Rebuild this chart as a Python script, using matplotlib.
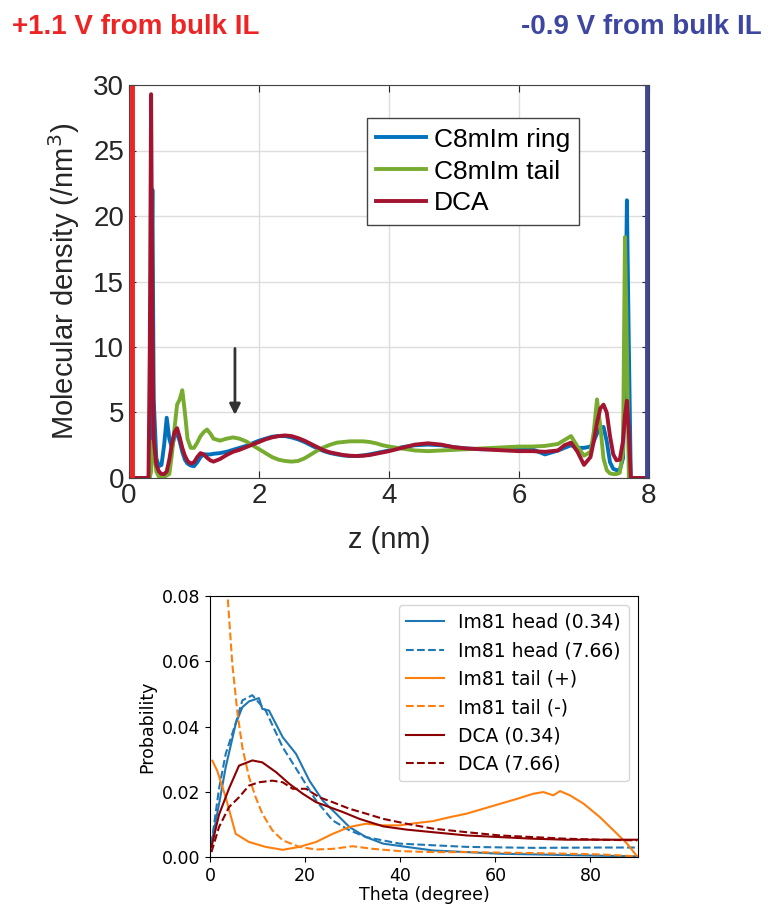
import numpy as np
import matplotlib.pyplot as plt

# ---- top panel: density profiles (z in nm) ----
z = [0.00, 0.30, 0.32, 0.34, 0.36, 0.38, 0.42, 0.46, 0.50, 0.54,
     0.58, 0.62, 0.66, 0.70, 0.74, 0.78, 0.82, 0.86, 0.90, 0.95,
     1.00, 1.05, 1.10, 1.15, 1.20, 1.25, 1.30, 1.40, 1.50, 1.60,
     1.70, 1.80, 1.90, 2.00, 2.10, 2.20, 2.30, 2.40, 2.50, 2.60,
     2.70, 2.80, 2.90, 3.00, 3.10, 3.20, 3.30, 3.40, 3.50, 3.60,
     3.70, 3.80, 3.90, 4.00, 4.20, 4.40, 4.60, 4.80, 5.00, 5.20,
     5.40, 5.60, 5.80, 6.00, 6.20, 6.40, 6.60, 6.70, 6.80, 6.90,
     7.00, 7.10, 7.15, 7.20, 7.25, 7.30, 7.35, 7.40, 7.45, 7.50,
     7.55, 7.60, 7.63, 7.66, 7.69, 7.72, 8.00]

ring = [0, 0, 1.0, 12, 22, 6.0, 1.5, 0.9, 1.0, 2.5,
        4.6, 3.0, 2.3, 3.2, 3.4, 2.8, 2.0, 1.4, 1.1, 0.95,
        0.9, 1.2, 1.6, 1.8, 1.8, 1.8, 1.85, 1.9, 2.0, 2.15,
        2.3, 2.45, 2.65, 2.85, 3.0, 3.15, 3.2, 3.2, 3.1, 2.95,
        2.75, 2.5, 2.25, 2.05, 1.9, 1.8, 1.72, 1.68, 1.68, 1.72,
        1.8, 1.9, 2.0, 2.1, 2.35, 2.5, 2.55, 2.5, 2.35, 2.25,
        2.2, 2.2, 2.15, 2.15, 2.2, 1.8, 2.1, 2.3, 2.5, 2.3,
        2.3, 2.4, 2.8, 3.4, 3.8, 3.9, 2.8, 1.2, 0.7, 0.6,
        0.6, 1.5, 8.0, 21.2, 10.0, 0, 0]

tail = [0, 0, 0, 0.5, 2.8, 2.5, 0.5, 0.1, 0.0, 0.05,
        0.2, 0.3, 1.8, 3.8, 5.6, 6.0, 6.7, 5.0, 3.0, 2.3,
        2.3, 2.7, 3.2, 3.5, 3.7, 3.4, 3.0, 2.85, 3.0, 3.1,
        3.0, 2.8, 2.5, 2.2, 1.9, 1.6, 1.4, 1.3, 1.25, 1.3,
        1.5, 1.8, 2.1, 2.35, 2.55, 2.7, 2.75, 2.8, 2.8, 2.8,
        2.75, 2.65, 2.5, 2.4, 2.25, 2.1, 2.05, 2.1, 2.15, 2.2,
        2.25, 2.3, 2.35, 2.4, 2.4, 2.45, 2.6, 2.9, 3.2, 2.4,
        1.7, 2.0, 3.5, 6.0, 4.0, 1.5, 0.6, 0.35, 0.3, 0.3,
        0.4, 2.0, 18.4, 10.0, 0, 0, 0]

dca = [0, 0, 10, 29.3, 12, 3.0, 1.0, 0.5, 0.3, 0.3,
       0.5, 1.4, 2.6, 3.5, 3.8, 3.1, 2.3, 1.7, 1.3, 1.1,
       1.2, 1.6, 1.9, 1.8, 1.55, 1.35, 1.25, 1.45, 1.75, 2.0,
       2.15, 2.35, 2.55, 2.75, 2.95, 3.1, 3.2, 3.25, 3.2, 3.05,
       2.85, 2.6, 2.35, 2.1, 1.95, 1.85, 1.75, 1.7, 1.68, 1.7,
       1.75, 1.85, 1.95, 2.05, 2.3, 2.55, 2.65, 2.55, 2.35, 2.25,
       2.2, 2.15, 2.1, 2.05, 2.05, 2.0, 2.1, 2.5, 2.7, 2.0,
       1.0, 1.6, 2.8, 4.2, 5.3, 5.6, 5.0, 3.2, 1.8, 1.35,
       1.4, 2.8, 4.8, 5.9, 3.5, 0, 0]

# ---- bottom panel: orientation distributions ----
th_head1 = [0.3, 2, 3.3, 5.4, 6.8, 8.2, 10.3, 11, 12.4, 15.3, 18.1, 20.9, 23.7,
            26.5, 29.3, 32.8, 36.4, 41.3, 46.9, 54, 61, 68, 82, 89.8]
p_head1 = [0.004, 0.017, 0.0275, 0.0408, 0.0459, 0.0477, 0.0487, 0.0454, 0.0449,
           0.0367, 0.0316, 0.0234, 0.0173, 0.0133, 0.0092, 0.0061, 0.0041, 0.0031,
           0.002, 0.0015, 0.001, 0.0008, 0.0004, 0.0002]

th_head2 = [0.3, 1.9, 3.3, 5.4, 6.8, 8.9, 11.7, 15.3, 18.8, 22.3, 25.8, 29.3,
            32.8, 39.9, 46.9, 54, 68, 82, 89.8]
p_head2 = [0.004, 0.021, 0.0316, 0.041, 0.048, 0.0496, 0.0449, 0.0336, 0.0255,
           0.0173, 0.0112, 0.0082, 0.0061, 0.0041, 0.0036, 0.0031, 0.0028,
           0.0029, 0.0029]

th_tail1 = [0.5, 1.5, 3.3, 5.4, 8.2, 11.7, 15.3, 18.8, 22.3, 25.8, 29.3, 32.8,
            36.4, 39.9, 43.4, 46.9, 50.4, 54, 57.5, 61, 64.5, 68, 70.1, 72.2,
            73.6, 75.7, 78.6, 82, 85.6, 87.7, 89.8]
p_tail1 = [0.0295, 0.0265, 0.0183, 0.0071, 0.0046, 0.0031, 0.0022, 0.0031,
           0.0046, 0.0071, 0.0092, 0.0102, 0.0097, 0.0097, 0.0104, 0.011,
           0.0122, 0.0133, 0.0148, 0.0163, 0.0178, 0.0194, 0.0199, 0.0189,
           0.0202, 0.0189, 0.0163, 0.0122, 0.0071, 0.0041, 0.0002]

th_tail2 = [0.5, 2.0, 3.7, 4.7, 5.8, 6.8, 8.2, 9.6, 11, 13.1, 15.3, 18.8, 22.3,
            25.8, 30, 34.2, 39.9, 46.9, 54, 68, 82, 89.8]
p_tail2 = [0.16, 0.11, 0.080, 0.059, 0.0438, 0.0336, 0.0245, 0.0183, 0.0133,
           0.0082, 0.0051, 0.0031, 0.0023, 0.0025, 0.0033, 0.0025, 0.0018,
           0.0015, 0.0015, 0.0012, 0.0008, 0.0002]

th_dca1 = [0.3, 1.9, 4, 6.1, 8.9, 11, 13.9, 16.7, 19.5, 22.3, 25.1, 27.9, 31.4,
           36.4, 41.3, 46.9, 54, 61, 68, 75, 82, 89.8]
p_dca1 = [0.003, 0.013, 0.021, 0.028, 0.0296, 0.029, 0.026, 0.0224, 0.0194,
          0.0168, 0.0153, 0.0138, 0.0117, 0.0094, 0.0084, 0.0076, 0.0066,
          0.0061, 0.0056, 0.0053, 0.0053, 0.0053]

th_dca2 = [0.3, 1.9, 4, 6.1, 8.2, 10.3, 13.1, 15.3, 17.4, 20.2, 23, 25.8, 29.3,
           32.8, 36.4, 41.3, 46.9, 54, 61, 68, 75, 82, 89.8]
p_dca2 = [0.0015, 0.0092, 0.0153, 0.0183, 0.0219, 0.0229, 0.0234, 0.0229,
          0.0209, 0.0209, 0.0183, 0.0168, 0.0148, 0.0133, 0.0117, 0.0102,
          0.0087, 0.0076, 0.0066, 0.0061, 0.0056, 0.0053, 0.0051]

fig = plt.figure(figsize=(7.72, 9.07), dpi=100)

# header text
fig.text(12 / 772, 1 - 27 / 907, "+1.1 V from bulk IL", color="#ee2424",
         fontsize=20, fontweight="bold", family="Liberation Sans", va="center")
fig.text(762 / 772, 1 - 27 / 907, "-0.9 V from bulk IL", color="#3d46a0",
         fontsize=20, fontweight="bold", family="Liberation Sans",
         va="center", ha="right")

# ---- top axes ----
ax = fig.add_axes([129 / 772, 1 - 478 / 907, 520 / 772, 393 / 907])
ax.plot(z, ring, color="#0072bd", lw=2.8, label="C8mIm ring")
ax.plot(z, tail, color="#77ac30", lw=2.8, label="C8mIm tail")
ax.plot(z, dca, color="#a2142f", lw=2.8, label="DCA")
ax.axvline(0.04, color="#ee2424", lw=3.5)
ax.axvline(7.97, color="#3d46a0", lw=3.5)
ax.set_xlim(0, 8)
ax.set_ylim(0, 30)
ax.set_xticks([0, 2, 4, 6, 8])
ax.set_yticks([0, 5, 10, 15, 20, 25, 30])
ax.grid(True, color="#dddddd", lw=1)
ax.tick_params(direction="in", top=True, right=True, labelsize=20,
               colors="#262626", length=5)
for s in ax.spines.values():
    s.set_color("#444444")
ax.set_xlabel("z (nm)", fontsize=21, family="Liberation Sans", color="#262626",
              labelpad=12)
ax.set_ylabel("Molecular density (/nm$^3$)", fontsize=21,
              family="Liberation Sans", color="#262626", labelpad=8)
for lbl in ax.get_xticklabels() + ax.get_yticklabels():
    lbl.set_family("Liberation Sans")
ax.annotate("", xy=(1.63, 4.6), xytext=(1.63, 10.1),
            arrowprops=dict(arrowstyle="-|>", color="#333333", lw=2,
                            mutation_scale=16))
leg = ax.legend(loc="upper left", bbox_to_anchor=(0.457, 0.915),
                prop={"family": "Liberation Sans", "size": 19},
                fancybox=False, framealpha=1, edgecolor="#444444",
                handlelength=1.9, handletextpad=0.3, borderpad=0.35,
                labelspacing=0.3, borderaxespad=0)

# ---- bottom axes ----
bx = fig.add_axes([210 / 772, 1 - 857 / 907, 428 / 772, 261 / 907])
bx.plot(th_head1, p_head1, color="tab:blue", label="Im81 head (0.34)")
bx.plot(th_head2, p_head2, color="tab:blue", ls="--", label="Im81 head (7.66)")
bx.plot(th_tail1, p_tail1, color="tab:orange", label="Im81 tail (+)")
bx.plot(th_tail2, p_tail2, color="tab:orange", ls="--", label="Im81 tail (-)")
bx.plot(th_dca1, p_dca1, color="darkred", label="DCA (0.34)")
bx.plot(th_dca2, p_dca2, color="darkred", ls="--", label="DCA (7.66)")
bx.set_xlim(0, 90)
bx.set_ylim(0, 0.08)
bx.set_xticks([0, 20, 40, 60, 80])
bx.set_yticks([0, 0.02, 0.04, 0.06, 0.08])
bx.tick_params(labelsize=12.5)
bx.set_xlabel("Theta (degree)", fontsize=12.5, labelpad=1)
bx.set_ylabel("Probability", fontsize=12.5)
bx.legend(loc="upper right", fontsize=13.5)

plt.savefig("out.png", dpi=100)
plt.close()
